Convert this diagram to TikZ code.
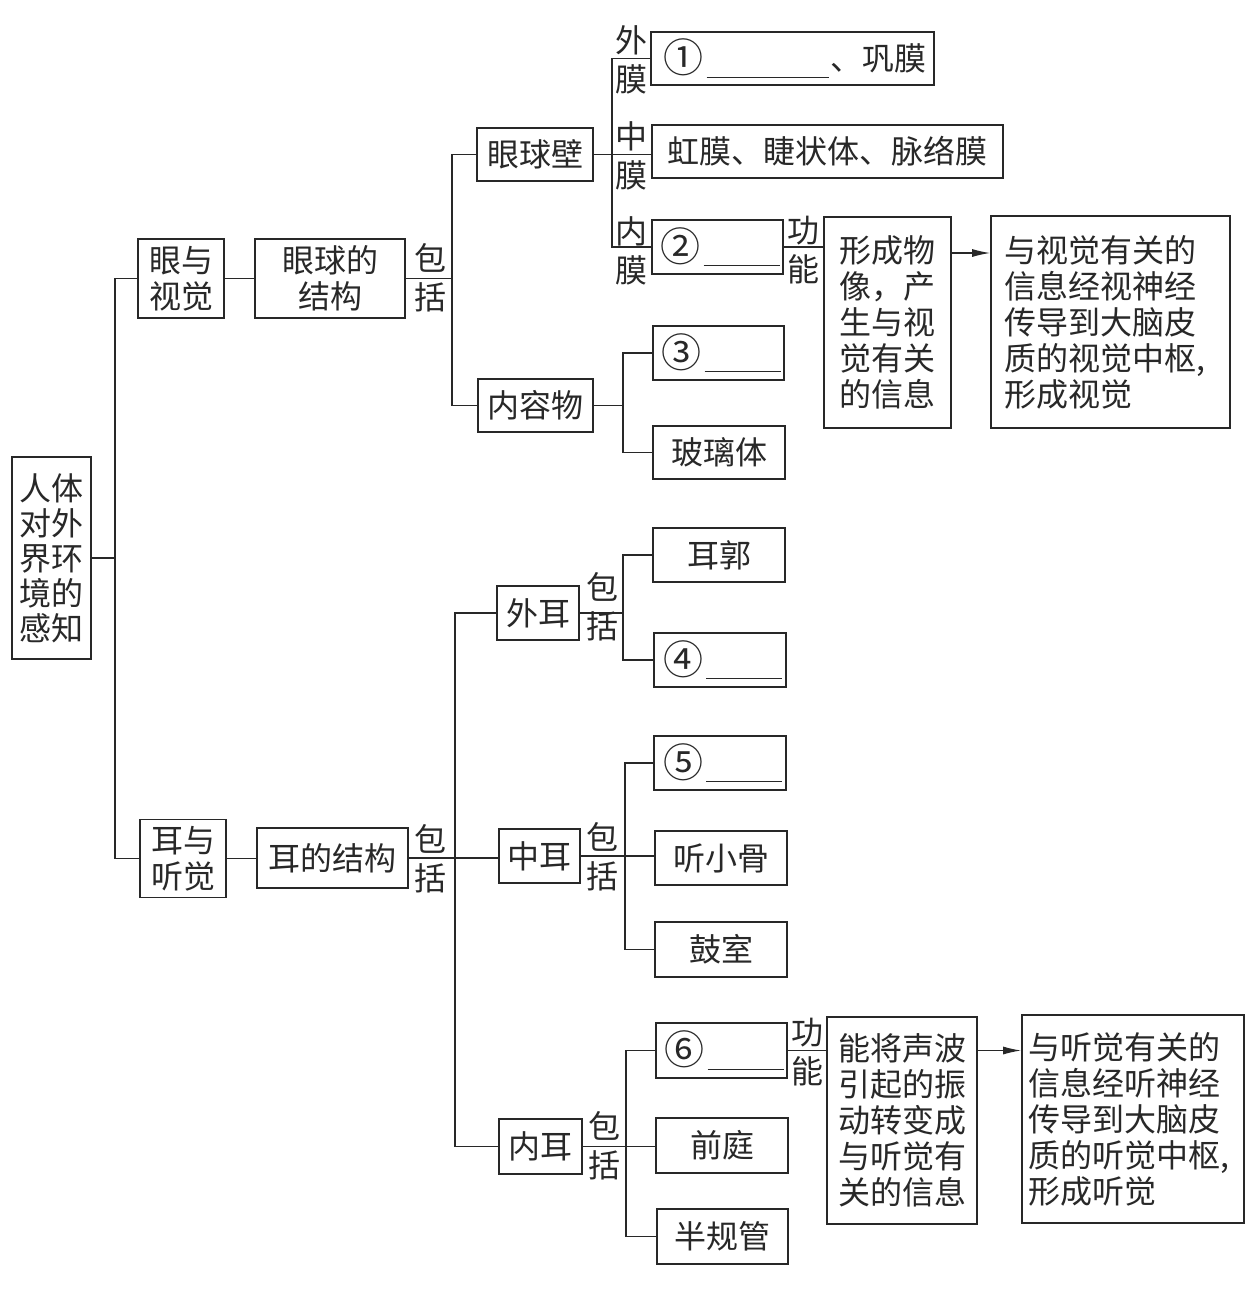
\documentclass[tikz,border=0pt]{standalone}
\usepackage{fontspec}
\usepackage{graphicx}
\setmainfont{Noto Sans CJK SC}
\usetikzlibrary{arrows.meta}
\definecolor{ink}{RGB}{40,40,40}
\newcommand\myblank[1]{\rule[-7pt]{#1pt}{1.2pt}}
\newcommand\mycirc[1]{\hspace{5pt}\raisebox{-2pt}{\scalebox{1.25}{#1}}\hspace{3pt}}
\begin{document}
\begin{tikzpicture}[x=1pt,y=-1pt,
  bx/.style={draw=ink, line width=1.6pt, inner sep=0pt, align=center, text=ink,
             font=\fontsize{32}{36}\selectfont},
  lbl/.style={inner sep=0pt, align=center, text=ink, font=\fontsize{32}{39}\selectfont},
  ln/.style={draw=ink, line width=1.3pt},
  arr/.style={ln, -{Latex[length=18pt,width=8pt]}}]
\useasboundingbox (0,0) rectangle (1248,1315);
\fill[white] (0,0) rectangle (1248,1315);

% ---------- boxes ----------
\node[bx, minimum width=79, minimum height=202, font=\fontsize{32}{35}\selectfont] (root) at (51.5,558) {人体\\对外\\界环\\境的\\感知};

\node[bx, minimum width=86, minimum height=79] (eyev) at (181,278.5) {眼与\\视觉};
\node[bx, minimum width=150, minimum height=79] (es) at (330,278.5) {眼球的\\结构};
\node[bx, minimum width=116, minimum height=53] (wall) at (535,154.5) {眼球壁};
\node[bx, minimum width=115, minimum height=53] (content) at (535.5,405.5) {内容物};

\node[bx, minimum width=283, minimum height=53] (b1) at (792.5,58.5) {\mycirc{①}\myblank{122}\hspace{2pt}、巩膜};
\node[bx, minimum width=351, minimum height=53] (mid) at (827.5,151.5) {虹膜、睫状体、脉络膜};
\node[bx, minimum width=131, minimum height=54] (b2) at (717.5,247) {\mycirc{②}\myblank{76}};
\node[bx, minimum width=127, minimum height=211] (f1) at (887.5,322.5) {形成物\\像，产\\生与视\\觉有关\\的信息};
\node[bx, minimum width=239, minimum height=212, align=left, text width=212pt] (v1) at (1110.5,322) {与视觉有关的\\信息经视神经\\传导到大脑皮\\质的视觉中枢,\\形成视觉};

\node[bx, minimum width=131, minimum height=54] (b3) at (718.5,353) {\mycirc{③}\myblank{76}};
\node[bx, minimum width=132, minimum height=53] (glass) at (719,452.5) {玻璃体};

\node[bx, minimum width=86, minimum height=78] (earv) at (183,858.5) {耳与\\听觉};
\node[bx, minimum width=151, minimum height=60] (es2) at (332.5,858) {耳的结构};

\node[bx, minimum width=82, minimum height=54] (outer) at (538,613) {外耳};
\node[bx, minimum width=132, minimum height=54] (pinna) at (719,555) {耳郭};
\node[bx, minimum width=132, minimum height=54] (b4) at (720,660) {\mycirc{④}\myblank{76}};

\node[bx, minimum width=81, minimum height=54] (middle) at (539.5,856) {中耳};
\node[bx, minimum width=132, minimum height=54] (b5) at (720,763) {\mycirc{⑤}\myblank{76}};
\node[bx, minimum width=132, minimum height=54] (ossicle) at (721,858) {听小骨};
\node[bx, minimum width=132, minimum height=55] (tymp) at (721,949.5) {鼓室};

\node[bx, minimum width=83, minimum height=55] (inner) at (540.5,1146.5) {内耳};
\node[bx, minimum width=131, minimum height=55] (b6) at (721.5,1050.5) {\mycirc{⑥}\myblank{76}};
\node[bx, minimum width=132, minimum height=55] (vest) at (722,1145.5) {前庭};
\node[bx, minimum width=131, minimum height=55] (semi) at (722.5,1236.5) {半规管};
\node[bx, minimum width=150, minimum height=207] (f2) at (902,1120.5) {能将声波\\引起的振\\动转变成\\与听觉有\\关的信息};
\node[bx, minimum width=222, minimum height=208, align=left, text width=210pt] (v2) at (1133,1119) {与听觉有关的\\信息经听神经\\传导到大脑皮\\质的听觉中枢,\\形成听觉};

% ---------- labels ----------
\node[lbl] (inc1) at (430,278) {包\\括};
\node[lbl] (lo) at (631,60) {外\\膜};
\node[lbl] (lm) at (631,156) {中\\膜};
\node[lbl] (li) at (631,251) {内\\膜};
\node[lbl] (fn1) at (803,250) {功\\能};
\node[lbl] (inc2) at (430,859) {包\\括};
\node[lbl] (inc3) at (602,607) {包\\括};
\node[lbl] (inc4) at (602,857) {包\\括};
\node[lbl] (inc5) at (604,1146) {包\\括};
\node[lbl] (fn2) at (807,1052) {功\\能};

% ---------- junctions ----------
\coordinate (j1) at (115,558);
\coordinate (j2) at (452,278.5);
\coordinate (j3) at (612,154.5);
\coordinate (j4) at (623,405.5);
\coordinate (j5) at (455,858);
\coordinate (j6) at (623,613);
\coordinate (j7) at (625,856);
\coordinate (j8) at (626,1146.5);

% ---------- connectors ----------
\draw[ln] (root.east) -- (j1);
\draw[ln] (eyev.west) -| (j1) |- (earv.west);
\draw[ln] (eyev.east) -- (es.west);
\draw[ln] (es.east) -- (j2);
\draw[ln] (wall.west) -| (j2) |- (content.west);
\draw[ln] (wall.east) -- (wall.east -| mid.west);
\draw[ln] (b1.west) -| (j3) |- (b2.west);
\draw[ln] (b2.east) -- (b2.east -| f1.west);
\draw[arr] ([yshift=-6pt]f1.east |- b2.east) -- ([yshift=-6pt]v1.west |- b2.east);
\draw[ln] (content.east) -- (j4);
\draw[ln] (b3.west) -| (j4) |- (glass.west);

\draw[ln] (earv.east) -- (earv.east -| es2.west);
\draw[ln] (es2.east) -- (es2.east -| middle.west);
\draw[ln] (outer.west) -| (j5) |- (inner.west);
\draw[ln] (outer.east) -- (j6);
\draw[ln] (pinna.west) -| (j6) |- (b4.west);
\draw[ln] (middle.east) -- (middle.east -| ossicle.west);
\draw[ln] (b5.west) -| (j7) |- (tymp.west);
\draw[ln] (inner.east) -- (inner.east -| vest.west);
\draw[ln] (b6.west) -| (j8) |- (semi.west);
\draw[ln] (b6.east) -- (b6.east -| f2.west);
\draw[arr] (f2.east |- b6.east) -- (v2.west |- b6.east);
\end{tikzpicture}
\end{document}
